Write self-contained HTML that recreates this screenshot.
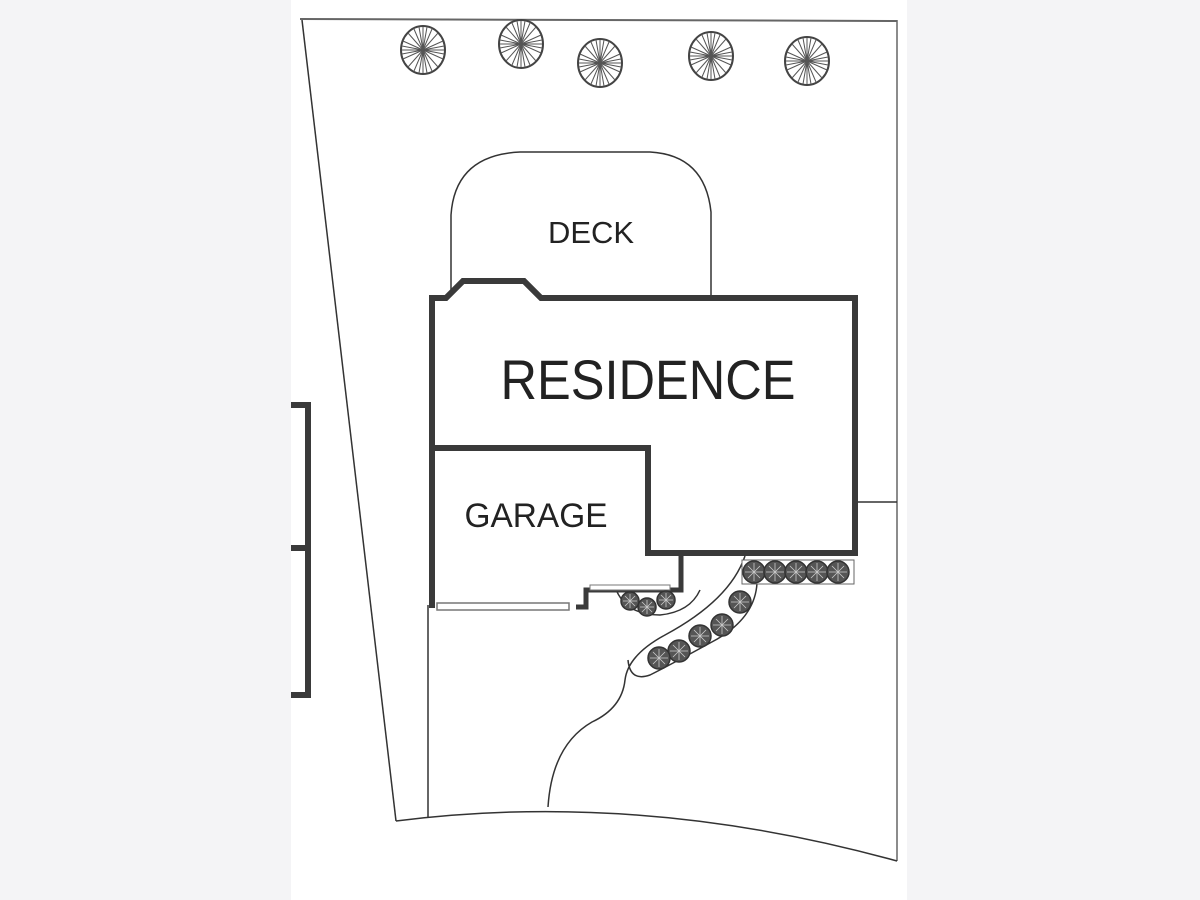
<!DOCTYPE html>
<html><head><style>
body{margin:0;background:#f4f4f6;}
.wrap{position:relative;width:1200px;height:900px;background:#f4f4f6;}
svg{position:absolute;left:0;top:0;}
</style></head><body><div class="wrap">
<svg width="1200" height="900" viewBox="0 0 1200 900">
<defs>
<g id="tree"><ellipse rx="22" ry="24" fill="#fff" stroke="#444" stroke-width="2"/>
<g stroke="#555" stroke-width="1">
<line x1="-21" y1="0" x2="21" y2="0"/><line x1="0" y1="-23" x2="0" y2="23"/>
<line x1="-15" y1="-17" x2="15" y2="17"/><line x1="-15" y1="17" x2="15" y2="-17"/>
<line x1="-20" y1="-9" x2="20" y2="9"/><line x1="-20" y1="9" x2="20" y2="-9"/>
<line x1="-9" y1="-21" x2="9" y2="21"/><line x1="-9" y1="21" x2="9" y2="-21"/>
<line x1="-4" y1="-23" x2="4" y2="23"/><line x1="-4" y1="23" x2="4" y2="-23"/>
<line x1="-21" y1="-4" x2="21" y2="4"/><line x1="-21" y1="4" x2="21" y2="-4"/>
</g></g>
<g id="shrub"><circle r="9" fill="#555" stroke="#333" stroke-width="1.5"/>
<g stroke="#ccc" stroke-width="0.8"><line x1="-7" y1="0" x2="7" y2="0"/><line x1="0" y1="-7" x2="0" y2="7"/><line x1="-5" y1="-5" x2="5" y2="5"/><line x1="-5" y1="5" x2="5" y2="-5"/></g></g>
<g id="shrubL"><circle r="11" fill="#555" stroke="#333" stroke-width="1.5"/>
<g stroke="#ccc" stroke-width="0.8"><line x1="-9" y1="0" x2="9" y2="0"/><line x1="0" y1="-9" x2="0" y2="9"/><line x1="-6" y1="-6" x2="6" y2="6"/><line x1="-6" y1="6" x2="6" y2="-6"/></g></g>
</defs>
<rect x="291" y="0" width="616" height="900" fill="#fff"/>
<g fill="none" stroke="#333" stroke-width="1.5">
<line x1="300" y1="19" x2="897" y2="21" stroke="#666" stroke-width="2"/>
<line x1="897" y1="20" x2="897" y2="861" stroke="#666"/>
<line x1="302" y1="20" x2="396" y2="821"/>
<path d="M396 821 Q640 790 897 861"/>
<line x1="428" y1="605" x2="428" y2="817"/>
<line x1="855" y1="502" x2="897" y2="502"/>
<path d="M451 290 L451 215 Q455 155 520 152 L650 152 Q705 155 711 212 L711 298"/>
<path d="M548 807 Q552 745 592 722 Q622 708 625 680 Q628 655 665 635 Q730 600 745 556"/>
<path d="M757 583 Q755 620 710 643 Q670 665 650 675 Q630 682 628 660"/>
<path d="M615 587 Q625 615 660 615 Q690 612 700 590"/>
</g>
<path d="M291 405 L308 405 L308 695 L291 695 M291 548 L308 548" fill="none" stroke="#3a3a3a" stroke-width="6"/>
<path d="M432 608 L432 298 L446 298 L463 281 L524 281 L541 298 L855 298 L855 553 L648 553 L648 448 L432 448" fill="none" stroke="#3a3a3a" stroke-width="6"/>
<path d="M681 553 L681 590 L586 590 L586 607 L576 607" fill="none" stroke="#3a3a3a" stroke-width="5"/>
<rect x="437" y="603" width="132" height="7" fill="#fff" stroke="#777" stroke-width="1.5"/>
<rect x="590" y="585" width="80" height="5" fill="#fff" stroke="#777" stroke-width="1"/>
<rect x="742" y="560" width="112" height="24" fill="#fff" stroke="#666" stroke-width="1"/>
<use href="#shrubL" x="754" y="572"/><use href="#shrubL" x="775" y="572"/><use href="#shrubL" x="796" y="572"/><use href="#shrubL" x="817" y="572"/><use href="#shrubL" x="838" y="572"/>
<use href="#shrub" x="630" y="601"/><use href="#shrub" x="647" y="607"/><use href="#shrub" x="666" y="600"/>
<use href="#shrubL" x="740" y="602"/><use href="#shrubL" x="722" y="625"/><use href="#shrubL" x="700" y="636"/><use href="#shrubL" x="679" y="651"/><use href="#shrubL" x="659" y="658"/>
<use href="#tree" x="423" y="50"/><use href="#tree" x="521" y="44"/><use href="#tree" x="600" y="63"/><use href="#tree" x="711" y="56"/><use href="#tree" x="807" y="61"/>
<g font-family="Liberation Sans, sans-serif" fill="#222">
<text x="591" y="243" font-size="31" text-anchor="middle" textLength="86" lengthAdjust="spacingAndGlyphs">DECK</text>
<text x="648" y="399" font-size="56" text-anchor="middle" textLength="295" lengthAdjust="spacingAndGlyphs">RESIDENCE</text>
<text x="536" y="527" font-size="34" text-anchor="middle" textLength="143" lengthAdjust="spacingAndGlyphs">GARAGE</text>
</g>
</svg></div></body></html>
